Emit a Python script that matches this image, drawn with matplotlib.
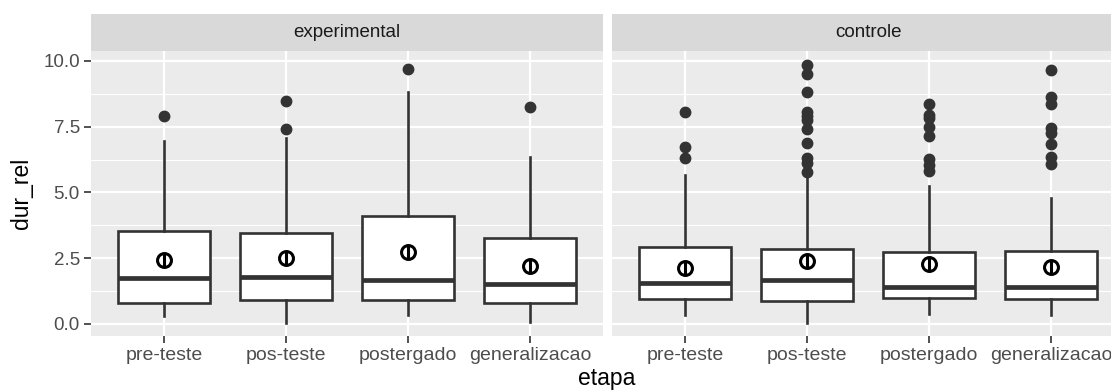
import matplotlib
matplotlib.use("Agg")
import matplotlib.pyplot as plt

plt.rcParams['font.family'] = ['Liberation Sans', 'DejaVu Sans']

etapas = ["pre-teste", "pos-teste", "postergado", "generalizacao"]
grupos = ["experimental", "controle"]

# five-number summaries per etapa, one list per grupo
exp_whislo = [0.30, 0.05, 0.34, 0.09]
exp_q1 = [0.81, 0.91, 0.91, 0.79]
exp_med = [1.76, 1.80, 1.67, 1.51]
exp_q3 = [3.55, 3.45, 4.12, 3.28]
exp_whishi = [6.96, 7.08, 8.81, 6.34]
exp_mean = [2.43, 2.50, 2.73, 2.22]
exp_outliers = [
    [7.92],
    [7.41, 8.49],
    [9.68],
    [8.26],
]

ctl_whislo = [0.34, 0.05, 0.38, 0.32]
ctl_q1 = [0.95, 0.89, 1.00, 0.95]
ctl_med = [1.55, 1.67, 1.42, 1.40]
ctl_q3 = [2.94, 2.85, 2.75, 2.79]
ctl_whishi = [5.67, 5.65, 5.26, 4.80]
ctl_mean = [2.14, 2.40, 2.27, 2.16]
ctl_outliers = [
    [8.05, 6.74, 6.30],
    [9.85, 9.49, 8.83, 8.07, 7.91, 7.76, 7.40, 6.89, 6.30, 6.13, 5.79],
    [8.35, 7.95, 7.85, 7.48, 7.16, 6.26, 6.05, 5.82],
    [9.66, 8.64, 8.35, 7.44, 7.25, 6.84, 6.36, 6.08],
]

dados = {
    "experimental": (exp_whislo, exp_q1, exp_med, exp_q3, exp_whishi, exp_mean, exp_outliers),
    "controle": (ctl_whislo, ctl_q1, ctl_med, ctl_q3, ctl_whishi, ctl_mean, ctl_outliers),
}

W, H = 1111, 391
fig = plt.figure(figsize=(W / 100, H / 100), dpi=100)
fig.patch.set_facecolor("white")

linha = "#333333"
pos = list(range(1, len(etapas) + 1))
pan_w = 512 / W
pan_h = (336 - 51) / H
pan_y = (H - 336) / H
strip_h = 37 / H
lefts = [91 / W, 612 / W]

for k, grupo in enumerate(grupos):
    lo, q1, med, q3, hi, media, outl = dados[grupo]
    ax = fig.add_axes([lefts[k], pan_y, pan_w, pan_h])
    ax.set_facecolor("#EBEBEB")
    for s in ax.spines.values():
        s.set_visible(False)

    stats = []
    for i in range(len(etapas)):
        stats.append(dict(med=med[i], q1=q1[i], q3=q3[i],
                          whislo=lo[i], whishi=hi[i], fliers=outl[i]))
    ax.bxp(stats, positions=pos, widths=0.75, patch_artist=True,
           showcaps=False, zorder=3,
           boxprops=dict(facecolor="white", edgecolor=linha, linewidth=1.9),
           whiskerprops=dict(color=linha, linewidth=1.9),
           medianprops=dict(color=linha, linewidth=3.4),
           flierprops=dict(marker="o", markerfacecolor=linha,
                           markeredgecolor=linha, markersize=7.5))

    # mean marker: open circle crossed by a vertical bar
    ax.plot(pos, media, linestyle="none", marker="o", markersize=10,
            markerfacecolor="none", markeredgecolor="black",
            markeredgewidth=2.2, zorder=5)
    ax.plot(pos, media, linestyle="none", marker="|", markersize=10,
            markeredgecolor="black", markeredgewidth=2.2, zorder=5)

    ax.set_xlim(0.4, 4.6)
    ax.set_ylim(-0.46, 10.38)
    ax.set_yticks([0, 2.5, 5.0, 7.5, 10.0])
    ax.set_yticks([1.25, 3.75, 6.25, 8.75], minor=True)
    ax.set_xticks(pos)
    ax.set_xticklabels(etapas)
    ax.grid(True, which="major", color="white", linewidth=1.6, zorder=0)
    ax.grid(True, which="minor", axis="y", color="white", linewidth=0.8, zorder=0)
    ax.set_axisbelow(True)
    ax.tick_params(axis="both", which="major", color="#333333", length=5,
                   width=1.2, labelsize=13.5, labelcolor="#4D4D4D", pad=3)
    ax.tick_params(axis="x", labelsize=14)
    ax.tick_params(axis="y", which="minor", length=0)
    if k == 0:
        ax.set_yticklabels(["0.0", "2.5", "5.0", "7.5", "10.0"])
    else:
        ax.tick_params(axis="y", which="major", length=0, labelleft=False)

    # facet strip
    sax = fig.add_axes([lefts[k], pan_y + pan_h, pan_w, strip_h])
    sax.set_facecolor("#D9D9D9")
    sax.set_xticks([])
    sax.set_yticks([])
    for s in sax.spines.values():
        s.set_visible(False)
    sax.text(0.5, 0.5, grupo, transform=sax.transAxes, ha="center",
             va="center", fontsize=13.5, color="#1A1A1A")

fig.text(607 / W, 1 - 379 / H, "etapa", ha="center", va="center",
         fontsize=16.5, color="black")
fig.text(22 / W, 1 - 193 / H, "dur_rel", ha="center", va="center",
         rotation=90, fontsize=16.5, color="black")

fig.savefig("out.png", dpi=100)
